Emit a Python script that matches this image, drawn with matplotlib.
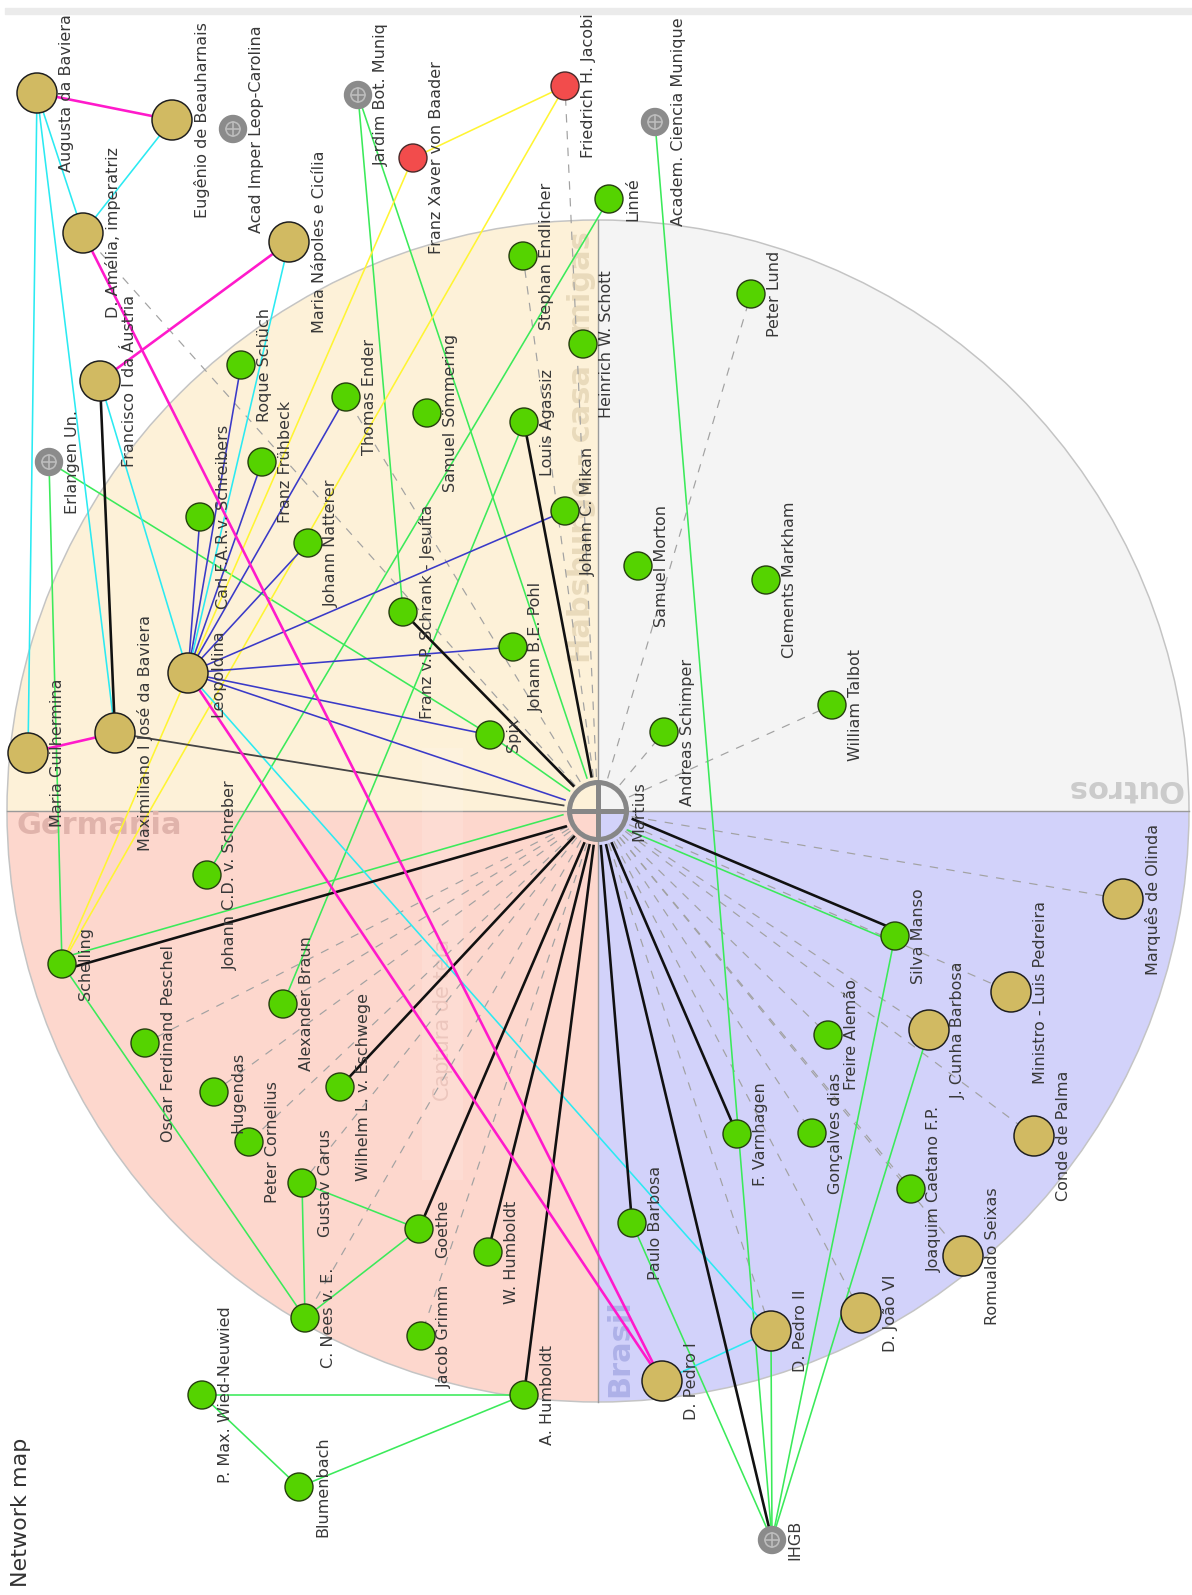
import numpy as np
import matplotlib
matplotlib.use("Agg")
import matplotlib.pyplot as plt
from matplotlib.patches import Circle, Wedge, Rectangle

# ---------------- data ----------------
node_names = [
    "Augusta da Baviera", "Eugênio de Beauharnais", "Acad Imper Leop-Carolina", "Jardim Bot. Muniq",
    "Franz Xaver von Baader", "Friedrich H. Jacobi", "Academ. Ciencia Munique", "Linné",
    "D. Amélia, imperatriz", "Maria Nápoles e Cicília", "Stephan Endlicher", "Peter Lund",
    "Heinrich W. Schott", "Roque Schüch", "Francisco I da Áustria", "Thomas Ender",
    "Samuel Sömmering", "Louis Agassiz", "Erlangen Un.", "Franz Frühbeck",
    "Carl F.A.R.v. Schreibers", "Johann C. Mikan", "Johann Natterer", "Samuel Morton",
    "Clements Markham", "Franz v.P. Schrank - Jesuíta", "Johann B.E. Pohl", "Leopoldina",
    "William Talbot", "Andreas Schimper", "Maximiliano I José da Baviera", "Spix",
    "Maria Guilhermina", "Martius", "Johann C.D. v. Schreber", "Marquês de Olinda",
    "Silva Manso", "Schelling", "Ministro - Luis Pedreira", "Alexander Braun",
    "J. Cunha Barbosa", "Freire Alemão", "Oscar Ferdinand Peschel", "Wilhelm L. v. Eschwege",
    "Hugendas", "Gonçalves dias", "F. Varnhagen", "Conde de Palma",
    "Peter Cornelius", "Gustav Carus", "Joaquim Caetano F.P.", "Paulo Barbosa",
    "Goethe", "W. Humboldt", "Romualdo Seixas", "D. João VI",
    "C. Nees v. E.", "D. Pedro II", "Jacob Grimm", "D. Pedro I",
    "A. Humboldt", "P. Max. Wied-Neuwied", "Blumenbach", "IHGB",
]
node_x = [37, 172, 233, 358, 413, 565, 655, 609, 83, 289, 523, 751, 583, 241, 100, 346,
          427, 524, 49, 262, 200, 565, 308, 638, 766, 403, 513, 188, 832, 664, 115, 490,
          28, 598, 207, 1123, 895, 62, 1011, 283, 929, 828, 145, 340, 214, 812, 737, 1034,
          249, 302, 911, 632, 419, 488, 963, 861, 305, 771, 421, 662, 524, 202, 299, 772]
node_y = [93, 120, 129, 95, 158, 86, 122, 199, 233, 242, 256, 294, 344, 365, 381, 397,
          413, 422, 462, 462, 517, 511, 543, 566, 580, 612, 647, 673, 705, 732, 733, 735,
          753, 811, 875, 899, 936, 964, 992, 1004, 1030, 1035, 1043, 1087, 1092, 1133, 1134, 1136,
          1142, 1183, 1189, 1223, 1229, 1252, 1256, 1313, 1318, 1331, 1336, 1381, 1395, 1395, 1487, 1540]
node_kind = ["gold", "gold", "inst", "inst", "red", "red", "inst", "green",
             "gold", "gold", "green", "green", "green", "green", "gold", "green",
             "green", "green", "inst", "green", "green", "green", "green", "green",
             "green", "green", "green", "gold", "green", "green", "gold", "green",
             "gold", "hub", "green", "gold", "green", "green", "gold", "green",
             "gold", "green", "green", "green", "green", "green", "green", "gold",
             "green", "green", "green", "green", "green", "green", "gold", "gold",
             "green", "gold", "green", "gold", "green", "green", "green", "inst"]

black_edges = [("Martius", "Franz v.P. Schrank - Jesuíta"), ("Martius", "Louis Agassiz"),
               ("Martius", "Schelling"), ("Martius", "Wilhelm L. v. Eschwege"), ("Martius", "Goethe"),
               ("Martius", "W. Humboldt"), ("Martius", "A. Humboldt"), ("Martius", "Paulo Barbosa"),
               ("Martius", "IHGB"), ("Martius", "F. Varnhagen"), ("Martius", "Silva Manso"),
               ("Francisco I da Áustria", "Maximiliano I José da Baviera")]
darkgray_edges = [("Martius", "Maximiliano I José da Baviera")]
magenta_edges = [("Augusta da Baviera", "Eugênio de Beauharnais"),
                 ("Maria Nápoles e Cicília", "Francisco I da Áustria"),
                 ("Maria Guilhermina", "Maximiliano I José da Baviera"),
                 ("D. Amélia, imperatriz", "D. Pedro I"), ("Leopoldina", "D. Pedro I")]
cyan_edges = [("Augusta da Baviera", "D. Amélia, imperatriz"), ("Eugênio de Beauharnais", "D. Amélia, imperatriz"),
              ("Augusta da Baviera", "Maria Guilhermina"), ("Augusta da Baviera", "Maximiliano I José da Baviera"),
              ("Francisco I da Áustria", "Leopoldina"), ("Maria Nápoles e Cicília", "Leopoldina"),
              ("Leopoldina", "D. Pedro II"), ("D. Pedro I", "D. Pedro II")]
blue_edges = [("Leopoldina", t) for t in ["Carl F.A.R.v. Schreibers", "Roque Schüch", "Franz Frühbeck",
                                          "Thomas Ender", "Johann Natterer", "Johann C. Mikan",
                                          "Johann B.E. Pohl", "Spix", "Martius"]]
yellow_edges = [("Franz Xaver von Baader", "Friedrich H. Jacobi"), ("Franz Xaver von Baader", "Schelling"),
                ("Friedrich H. Jacobi", "Schelling")]
green_edges = [("Jardim Bot. Muniq", "Franz v.P. Schrank - Jesuíta"), ("Jardim Bot. Muniq", "Martius"),
               ("Academ. Ciencia Munique", "IHGB"), ("Erlangen Un.", "Schelling"), ("Erlangen Un.", "Spix"),
               ("Spix", "Martius"), ("Linné", "Johann C.D. v. Schreber"), ("Louis Agassiz", "Alexander Braun"),
               ("Schelling", "Martius"), ("Schelling", "C. Nees v. E."), ("C. Nees v. E.", "Gustav Carus"),
               ("C. Nees v. E.", "Goethe"), ("Gustav Carus", "Goethe"), ("P. Max. Wied-Neuwied", "A. Humboldt"),
               ("P. Max. Wied-Neuwied", "Blumenbach"), ("Blumenbach", "A. Humboldt"), ("Silva Manso", "IHGB"),
               ("J. Cunha Barbosa", "IHGB"), ("D. Pedro II", "IHGB"), ("Paulo Barbosa", "IHGB"),
               ("Martius", "Silva Manso")]
dashed_edges = [("Martius", t) for t in [
    "D. Amélia, imperatriz", "Friedrich H. Jacobi", "Stephan Endlicher", "Thomas Ender",
    "Peter Lund", "Andreas Schimper", "William Talbot",
    "Oscar Ferdinand Peschel", "Hugendas", "Peter Cornelius", "Gustav Carus", "C. Nees v. E.",
    "Jacob Grimm", "Alexander Braun",
    "Marquês de Olinda", "Ministro - Luis Pedreira", "J. Cunha Barbosa", "Freire Alemão",
    "Conde de Palma", "Gonçalves dias", "Joaquim Caetano F.P.", "Romualdo Seixas",
    "D. João VI", "D. Pedro II"]]

quadrant_names = ["Brasil", "Germania", "Habsburgo - casa amigas", "Outros"]
title = "Network map"

# ---------------- styling ----------------
W, H = 1192, 1595
CX, CY, R = 598, 811, 591
radius = {"gold": 20, "green": 14, "red": 14, "inst": 13.5, "hub": 31}
PX = 0.72  # points per pixel at dpi 100

fig = plt.figure(figsize=(W / 100, H / 100), dpi=100)
ax = fig.add_axes([0, 0, 1, 1])
ax.set_xlim(0, W)
ax.set_ylim(H, 0)
ax.axis("off")

pos = {n: (x, y) for n, x, y in zip(node_names, node_x, node_y)}
kind = dict(zip(node_names, node_kind))

# top bar
ax.add_patch(Rectangle((5, 8), W - 5, 6, color="#EBEBEB", zorder=0))

# quadrants (y axis inverted: angle 0-90 = lower right on screen)
q_colors = ["#D2D2FA", "#FDD7CD", "#FDF1D8", "#F4F4F4"]
for i, c in enumerate(q_colors):
    ax.add_patch(Wedge((CX, CY), R, 90 * i, 90 * (i + 1), facecolor=c, edgecolor="none", zorder=1))
ax.add_patch(Circle((CX, CY), R, facecolor="none", edgecolor="#C4C4C4", lw=1.5 * PX, zorder=1.2))
ax.plot([CX, CX], [CY - R, CY + R], color="#9A9A9A", lw=1.4 * PX, zorder=1.3)
ax.plot([CX - R, CX + R], [CY, CY], color="#9A9A9A", lw=1.4 * PX, zorder=1.3)

# faint capture box
ax.add_patch(Rectangle((422, 748), 41, 432, facecolor="white", alpha=0.13, edgecolor="none", zorder=1.4))
ax.text(443, 1020, "Captura de tela", rotation=90, ha="center", va="center", fontsize=15,
        color="#ECC6BD", zorder=1.5)

# quadrant labels
ax.text(620, 1348, quadrant_names[0], rotation=90, ha="center", va="center", fontsize=22,
        fontweight="bold", color="#AEB1E8", zorder=1.5)
ax.text(17, 826, quadrant_names[1], ha="left", va="center", fontsize=22,
        fontweight="bold", color="#E0B3AB", zorder=1.5)
ax.text(596, 447, quadrant_names[2], rotation=90, ha="center", va="bottom", fontsize=22,
        fontweight="bold", color="#E9DABB", zorder=1.5, rotation_mode="anchor")
ax.text(1124, 788, quadrant_names[3], rotation=180, ha="center", va="center", fontsize=22,
        fontweight="bold", color="#CBCBCB", zorder=1.5)


def seg(a, b, offset=0.0):
    (x1, y1), (x2, y2) = pos[a], pos[b]
    dx, dy = x2 - x1, y2 - y1
    L = np.hypot(dx, dy)
    ux, uy = dx / L, dy / L
    px, py = -uy * offset, ux * offset
    s1 = radius["hub"] + 3 if kind[a] == "hub" else 0
    s2 = radius["hub"] + 3 if kind[b] == "hub" else 0
    return ([x1 + ux * s1 + px, x2 - ux * s2 + px], [y1 + uy * s1 + py, y2 - uy * s2 + py])


def draw(edges, color, lw, z=2, dashed=False, offsets=None):
    for e in edges:
        off = 0.0
        if offsets and e in offsets:
            off = offsets[e]
        xs, ys = seg(*e, offset=off)
        line, = ax.plot(xs, ys, color=color, lw=lw * PX, zorder=z, solid_capstyle="butt")
        if dashed:
            line.set_dashes((7, 7))


draw(dashed_edges, "#A2A2A2", 1.2, z=2, dashed=True)
draw(green_edges, "#3BEA5A", 1.6, z=2.2,
     offsets={("Schelling", "Martius"): -6, ("Martius", "Silva Manso"): 6})
draw(yellow_edges, "#FFF533", 1.6, z=2.2)
draw(blue_edges, "#3A3AC8", 1.6, z=2.3)
draw(cyan_edges, "#2BEAF2", 1.6, z=2.3)
draw(darkgray_edges, "#444444", 1.8, z=2.4)
draw(black_edges, "#111111", 2.6, z=2.5,
     offsets={("Martius", "Schelling"): -6, ("Martius", "Silva Manso"): -6})
draw(magenta_edges, "#FF1ACB", 2.6, z=2.6)

# nodes
for n, x, y, k in zip(node_names, node_x, node_y, node_kind):
    r = radius[k]
    if k == "gold":
        ax.add_patch(Circle((x, y), r, facecolor="#D1BA62", edgecolor="#1E1E1E", lw=1.5 * PX, zorder=5))
    elif k == "green":
        ax.add_patch(Circle((x, y), r, facecolor="#55D300", edgecolor="#26400F", lw=1.4 * PX, zorder=5))
    elif k == "red":
        ax.add_patch(Circle((x, y), r, facecolor="#F24C4C", edgecolor="#4A2A2A", lw=1.4 * PX, zorder=5))
    elif k == "inst":
        ax.add_patch(Circle((x, y), r, facecolor="#8B8B8B", edgecolor="#8B8B8B", lw=1, zorder=5))
        ax.add_patch(Circle((x, y), 7, facecolor="none", edgecolor="#BDBDBD", lw=1.6 * PX, zorder=5.1))
        ax.plot([x - 7, x + 7], [y, y], color="#BDBDBD", lw=1.6 * PX, zorder=5.1)
        ax.plot([x, x], [y - 7, y + 7], color="#BDBDBD", lw=1.6 * PX, zorder=5.1)
    elif k == "hub":
        ax.add_patch(Circle((x, y), r - 2.5, facecolor="none", edgecolor="#878787", lw=5 * PX, zorder=5))
        ax.plot([x - r + 3, x + r - 3], [y, y], color="#878787", lw=5 * PX, zorder=5, solid_capstyle="butt")
        ax.plot([x, x], [y - r + 3, y + r - 3], color="#878787", lw=5 * PX, zorder=5, solid_capstyle="butt")
    ax.text(x + r + 2, y, n, rotation=90, rotation_mode="anchor", ha="center", va="top",
            fontsize=11.5, color="#383838", zorder=6)

ax.text(21, 1512, title, rotation=90, ha="center", va="center", fontsize=16, color="#333333", zorder=6)

fig.savefig("out.png", dpi=100)
